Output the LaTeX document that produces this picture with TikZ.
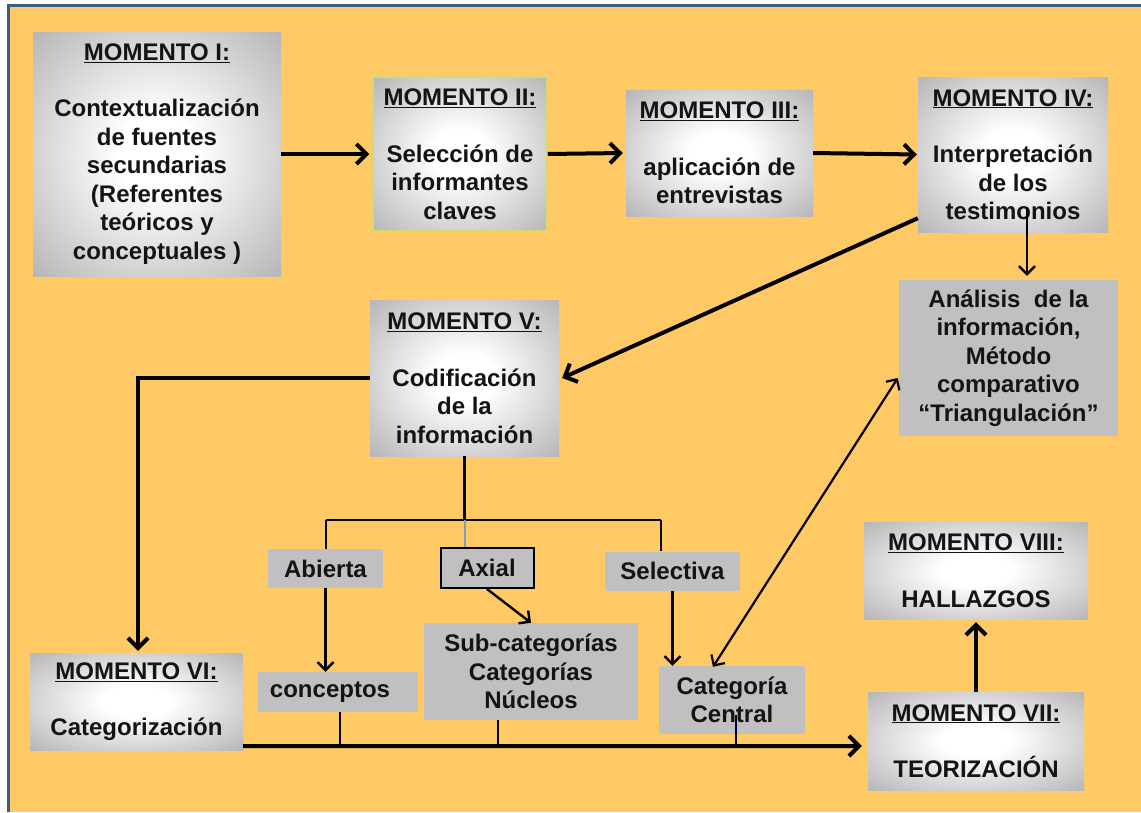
\documentclass[tikz,border=0pt]{standalone}
\usepackage{fontspec}
\setmainfont{Liberation Sans}
\usetikzlibrary{arrows.meta}
\definecolor{bg}{HTML}{FFC966}
\definecolor{flat}{HTML}{C0C0C0}
\definecolor{framec}{HTML}{3E5C80}
\definecolor{axline}{HTML}{7F9FBF}
\definecolor{glowc}{HTML}{D6DA6E}
\pgfdeclareradialshading{momshade}{\pgfpointorigin}{color(0bp)=(white); color(8bp)=(white); color(50bp)=(black!44); color(72bp)=(black!50)}
\begin{document}
\begin{tikzpicture}[x=1pt,y=-1pt,
  every node/.style={font=\fontsize{24}{28.5}\selectfont\bfseries, text=black!92, align=center, inner sep=0pt},
  mom/.style={shading=momshade},
  flatbox/.style={fill=flat},
  thickarrow/.style={line width=4pt, -{Straight Barb[length=10pt,width=20pt]}},
  thinarrow/.style={line width=2.4pt, -{Straight Barb[length=8pt,width=16pt]}},
  busline/.style={line width=2.8pt},
  thickline/.style={line width=4pt}]
\useasboundingbox (0,0) rectangle (1141,812);
\fill[white] (0,0) rectangle (1141,812);
\fill[bg] (8,5) rectangle (1141,812);
\draw[framec, line width=3pt] (8,812) -- (8,5) -- (1141,5);

% Momento boxes
\node[mom, minimum width=248pt, minimum height=244pt] (m1) at (157,154)
  {\underline{MOMENTO I:}\\[28pt]Contextualización\\de fuentes\\secundarias\\(Referentes\\teóricos y\\conceptuales )};
\node[mom, draw=glowc, line width=1.5pt, minimum width=174pt, minimum height=154pt] (m2) at (460,154)
  {\underline{MOMENTO II:}\\[28pt]Selección de\\informantes\\claves};
\node[mom, minimum width=187pt, minimum height=126pt] (m3) at (719.5,153)
  {\underline{MOMENTO III:}\\[28pt]aplicación de\\entrevistas};
\node[mom, minimum width=190pt, minimum height=155pt] (m4) at (1013,154.5)
  {\underline{MOMENTO IV:}\\[28pt]Interpretación\\de los\\testimonios};
\node[flatbox, minimum width=219pt, minimum height=156pt] (ana) at (1008.5,358)
  {Análisis~~de la\\información,\\Método\\comparativo\\“Triangulación”};
\node[mom, minimum width=189pt, minimum height=156pt] (m5) at (464.5,378)
  {\underline{MOMENTO V:}\\[28pt]Codificación\\de la\\información};
\node[mom, minimum width=213pt, minimum height=97pt] (m6) at (136.5,701.5)
  {\underline{MOMENTO VI:}\\[28pt]Categorización};
\node[mom, minimum width=224pt, minimum height=97pt] (m8) at (976,570.5)
  {\underline{MOMENTO VIII:}\\[28pt]HALLAZGOS};
\node[mom, minimum width=216pt, minimum height=98pt] (m7) at (976,741)
  {\underline{MOMENTO VII:}\\[28pt]TEORIZACIÓN};

% small boxes
\node[flatbox, minimum width=115pt, minimum height=39pt] (abi) at (325.5,568.5) {Abierta};
\node[flatbox, draw=black, line width=2pt, minimum width=93pt, minimum height=40pt] (axi) at (487,568) {Axial};
\node[flatbox, minimum width=135pt, minimum height=39pt] (sel) at (672.5,571) {Selectiva};
\node[flatbox, minimum width=160pt, minimum height=40pt] (con) at (338,692) {\hspace*{-16pt}conceptos};
\node[flatbox, minimum width=214pt, minimum height=97pt] (sub) at (531,671.5) {Sub-categorías\\Categorías\\Núcleos};
\node[flatbox, minimum width=146pt, minimum height=68pt] (cc) at (732,700) {Categoría\\Central};

% top row arrows
\draw[thickarrow] (m1.east) -- ([xshift=-3pt]m2.west);
\draw[thickarrow] (m2.east) -- ([xshift=-3pt]m3.west);
\draw[thickarrow] (m3.east) -- ([xshift=-1pt]m4.west);
\draw[thickarrow] ([yshift=14pt]m4.south west) -- ([xshift=3pt]m5.east);
\draw[thinarrow] ([xshift=14pt,yshift=25pt]m4.south) -- ([xshift=14pt,yshift=4pt]m4.south |- ana.north);
\draw[thickarrow] (m5.west) -| ([xshift=1.5pt,yshift=2pt]m6.north);

% coding bus
\coordinate (busL) at (326,520);
\coordinate (busR) at (661,520);
\draw[busline] (m5.south) -- (m5.south |- busL);
\draw[busline] (busL) -- (busR);
\draw[busline] (busL) -- (busL |- abi.north);
\draw[axline, line width=2pt] (m5.south |- busL) -- (m5.south |- axi.north);
\draw[busline] (busR) -- (busR |- sel.north);

\draw[thinarrow] (abi.south) -- (abi.south |- con.north);
\draw[thinarrow] (axi.south) -- (sub.north);
\draw[thinarrow] (sel.south) -- (sel.south |- cc.north);
\draw[line width=2.2pt, {Straight Barb[length=8pt,width=16pt]}-{Straight Barb[length=8pt,width=16pt]}]
  ([xshift=-1pt,yshift=-20pt]ana.west) -- ([xshift=-19pt,yshift=-1pt]cc.north);

% bottom bus
\coordinate (busy) at (0,746);
\draw[thickarrow] ([yshift=4pt]m6.south east) -- ([xshift=-6pt]m7.west |- busy);
\draw[busline] ([xshift=2pt]con.south) -- ([xshift=2pt]con.south |- busy);
\draw[busline] ([xshift=-33pt]sub.south) -- ([xshift=-33pt]sub.south |- busy);
\draw[busline, black!80!blue] ([xshift=4pt,yshift=19pt]cc.south) -- ([xshift=4pt]cc.south |- busy);

\draw[thickarrow] (m7.north) -- ([yshift=-3pt]m8.south);
\end{tikzpicture}
\end{document}
